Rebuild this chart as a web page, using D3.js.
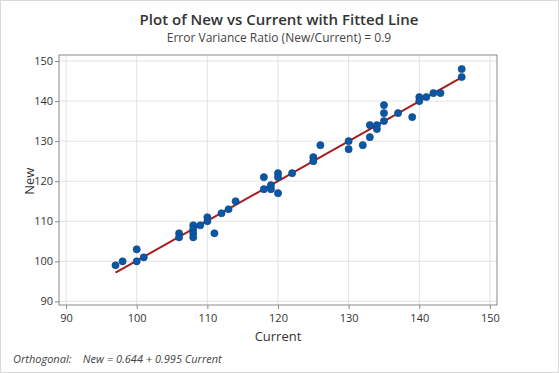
<!DOCTYPE html>
<html>
<head>
<meta charset="utf-8">
<script src="https://cdn.jsdelivr.net/npm/d3@7"></script>
<style>
  body { margin: 0; background: #fff; }
  text { font-family: "Open Sans", "Noto Sans", sans-serif; }
</style>
</head>
<body>
<div id="wrapper"></div>
<script>
// data
const currentValues = [97, 98, 100, 100, 101, 106, 106, 108, 108, 108, 108, 109, 110, 110, 111, 112, 113, 114,
  118, 118, 119, 119, 120, 120, 120, 122, 125, 125, 126, 130, 130, 132, 133, 133, 134, 134,
  135, 135, 135, 137, 139, 140, 140, 141, 142, 143, 146, 146]
const newValues = [99, 100, 103, 100, 101, 107, 106, 109, 108, 107, 106, 109, 111, 110, 107, 112, 113, 115,
  121, 118, 119, 118, 122, 121, 117, 122, 126, 125, 129, 130, 128, 129, 134, 131, 134, 133,
  139, 137, 135, 137, 136, 141, 140, 141, 142, 142, 148, 146]
const xTicks = [90, 100, 110, 120, 130, 140, 150]
const yTicks = [90, 100, 110, 120, 130, 140, 150]
const intercept = 0.644
const slope = 0.995

function drawChart() {
  const dataset = currentValues.map((c, i) => ({ current: c, new: newValues[i] }))
  const xAccessor = d => d.current
  const yAccessor = d => d.new

  // chart dimensions
  let dimensions = {
    width: 559,
    height: 373,
    margin: { top: 55, right: 62, bottom: 68, left: 59 },
  }
  dimensions.boundedWidth = dimensions.width - dimensions.margin.left - dimensions.margin.right
  dimensions.boundedHeight = dimensions.height - dimensions.margin.top - dimensions.margin.bottom

  const wrapper = d3.select('#wrapper')
    .append('svg')
      .attr('width', dimensions.width)
      .attr('height', dimensions.height)

  // outer light border
  wrapper.append('rect')
      .attr('x', 0.5).attr('y', 0.5)
      .attr('width', dimensions.width - 1).attr('height', dimensions.height - 1)
      .attr('fill', '#fff')
      .attr('stroke', '#d9d9d9')

  const bounds = wrapper.append('g')
      .attr('transform', `translate(${dimensions.margin.left},${dimensions.margin.top})`)

  // scales
  const xScale = d3.scaleLinear()
    .domain([89, 151])
    .range([0, dimensions.boundedWidth])
  const yScale = d3.scaleLinear()
    .domain([89.1, 151.5])
    .range([dimensions.boundedHeight, 0])

  // gridlines
  bounds.append('g')
    .selectAll('line')
    .data(xTicks)
    .join('line')
      .attr('x1', d => xScale(d)).attr('x2', d => xScale(d))
      .attr('y1', 0).attr('y2', dimensions.boundedHeight)
      .attr('stroke', '#e3e3e3')
  bounds.append('g')
    .selectAll('line')
    .data(yTicks)
    .join('line')
      .attr('y1', d => yScale(d)).attr('y2', d => yScale(d))
      .attr('x1', 0).attr('x2', dimensions.boundedWidth)
      .attr('stroke', '#e3e3e3')

  // fitted line
  const xMin = d3.min(dataset, xAccessor)
  const xMax = d3.max(dataset, xAccessor)
  bounds.append('line')
      .attr('x1', xScale(xMin)).attr('y1', yScale(intercept + slope * xMin))
      .attr('x2', xScale(xMax)).attr('y2', yScale(intercept + slope * xMax))
      .attr('stroke', '#a51d1d')
      .attr('stroke-width', 2)

  // points
  bounds.append('g')
    .selectAll('circle')
    .data(dataset)
    .join('circle')
      .attr('cx', d => xScale(xAccessor(d)))
      .attr('cy', d => yScale(yAccessor(d)))
      .attr('r', 3.6)
      .attr('fill', '#0a57a6')
      .attr('stroke', '#0b4484')
      .attr('stroke-width', 0.6)

  // frame
  bounds.append('rect')
      .attr('x', 0).attr('y', 0)
      .attr('width', dimensions.boundedWidth)
      .attr('height', dimensions.boundedHeight)
      .attr('fill', 'none')
      .attr('stroke', '#8a8a8a')

  // axes
  const xAxis = bounds.append('g')
      .attr('transform', `translate(0,${dimensions.boundedHeight})`)
      .call(d3.axisBottom(xScale).tickValues(xTicks).tickSize(4).tickPadding(5))
  const yAxis = bounds.append('g')
      .call(d3.axisLeft(yScale).tickValues(yTicks).tickSize(4).tickPadding(2))
  ;[xAxis, yAxis].forEach(axis => {
    axis.select('.domain').remove()
    axis.selectAll('line').attr('stroke', '#8a8a8a')
    axis.selectAll('text')
        .attr('fill', '#333')
        .style('font-size', '11px')
        .style('font-family', '"Open Sans", sans-serif')
  })

  // labels
  wrapper.append('text')
      .attr('x', 279).attr('y', 25)
      .attr('text-anchor', 'middle')
      .attr('fill', '#333')
      .style('font-size', '15px')
      .style('font-weight', 600)
      .text('Plot of New vs Current with Fitted Line')
  wrapper.append('text')
      .attr('x', 279).attr('y', 42)
      .attr('text-anchor', 'middle')
      .attr('fill', '#444')
      .style('font-size', '12px')
      .text('Error Variance Ratio (New/Current) = 0.9')
  wrapper.append('text')
      .attr('x', dimensions.margin.left + xScale(120)).attr('y', 341)
      .attr('text-anchor', 'middle')
      .attr('fill', '#333')
      .style('font-size', '13px')
      .text('Current')
  wrapper.append('text')
      .attr('transform', `translate(34,${dimensions.margin.top + yScale(120)}) rotate(-90)`)
      .attr('text-anchor', 'middle')
      .attr('fill', '#333')
      .style('font-size', '13px')
      .text('New')
  wrapper.append('text')
      .attr('x', 13).attr('y', 363)
      .attr('fill', '#444')
      .style('font-size', '11px')
      .style('font-style', 'italic')
      .attr('xml:space', 'preserve')
      .text('Orthogonal:    New = 0.644 + 0.995 Current')
}
drawChart()
</script>
</body>
</html>
